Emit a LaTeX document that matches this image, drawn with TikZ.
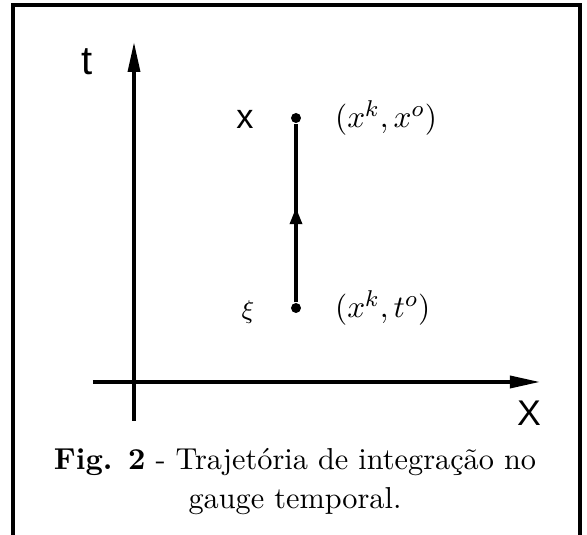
\documentclass[tikz,border=0pt]{standalone}
\usepackage{fontspec}
\newfontfamily\axisfont{Liberation Sans}
\usetikzlibrary{arrows.meta,decorations.markings}

\begin{document}
\begin{tikzpicture}[x=0.35pt, y=-0.35pt,
  axis/.style={line width=1.2pt, -{Triangle[length=10.5pt,width=4.2pt]}},
  dot/.style={circle, fill, inner sep=0pt, minimum size=3.5pt},
  sanslbl/.style={font=\axisfont\fontsize{14}{16}\selectfont},
  mathlbl/.style={font=\fontsize{11}{13}\selectfont, anchor=west},
  capline/.style={font=\fontsize{10.6}{13}\selectfont, anchor=base}]
\useasboundingbox (0,0) rectangle (587,535);
% frame, open at the bottom
\draw[line width=1.3pt] (13,535) -- (13,5) -- (580,5) -- (580,535);
% axes
\coordinate (tbot) at (134,421);
\coordinate (ttop) at (134,42);
\coordinate (xleft) at (93,382);
\coordinate (xright) at (540,382);
\draw[axis] (tbot) -- (ttop);
\draw[axis] (xleft) -- (xright);
\node[sanslbl] (tlab) at (87,62) {t};
\node[font=\axisfont\fontsize{12.5}{14}\selectfont] (Xlab) at (529,413) {X};
% integration path
\node[dot] (xpt) at (296,118) {};
\node[dot] (xi) at (296,308) {};
\draw[line width=1.2pt, postaction={decorate},
  decoration={markings, mark=at position 0.53 with {\arrow{Triangle[length=5.8pt,width=4.2pt]}}}]
  (xi) -- (xpt);
\node[font=\axisfont\fontsize{12}{14}\selectfont] (xlab) at (245,119) {x};
\node[font=\fontsize{9.5}{11}\selectfont] (xilab) at (248,312) {$\xi$};
\node[mathlbl] (xcoord) at (325,118) {$(x^k,x^o)$};
\node[mathlbl] (tcoord) at (325,308) {$(x^k,t^o)$};
% caption
\node[capline] (cap1) at (295,470) {\textbf{Fig. 2} - Trajetória de integração no};
\node[capline] (cap2) at (295,509) {gauge temporal.};
\end{tikzpicture}
\end{document}
